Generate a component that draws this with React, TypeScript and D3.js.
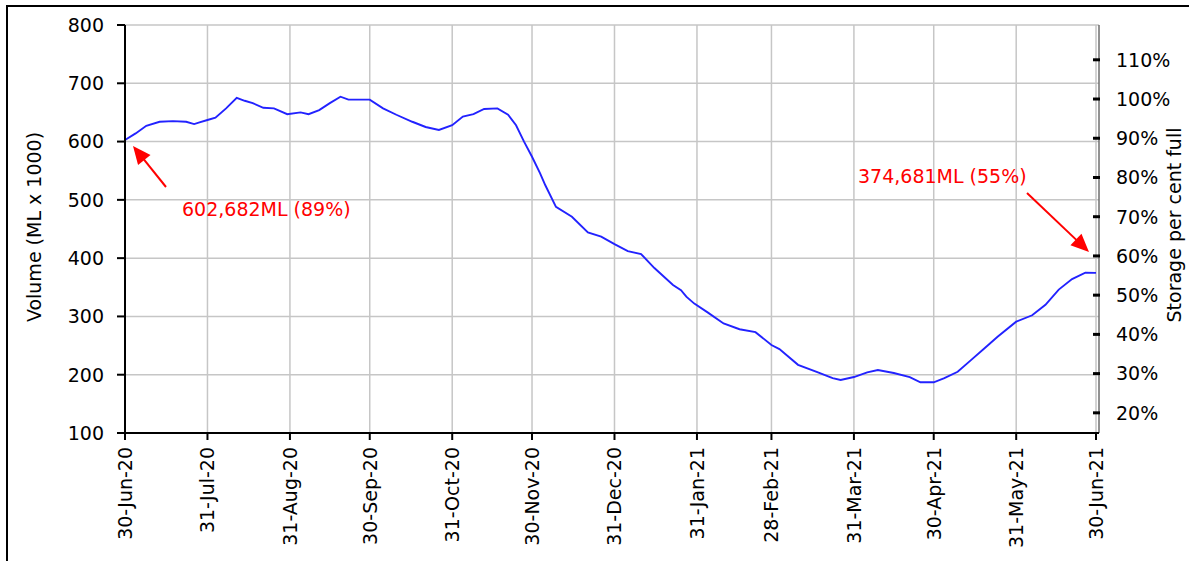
import React from "react";
import * as d3 from "d3";

// storage volume (ML x 1000)
const dates = [
  "2020-06-30", "2020-07-04", "2020-07-08", "2020-07-13", "2020-07-18", "2020-07-23",
  "2020-07-26", "2020-07-28", "2020-07-31", "2020-08-03", "2020-08-07", "2020-08-11",
  "2020-08-14", "2020-08-17", "2020-08-21", "2020-08-25", "2020-08-30", "2020-09-04",
  "2020-09-07", "2020-09-11", "2020-09-15", "2020-09-19", "2020-09-22", "2020-09-30",
  "2020-10-05", "2020-10-10", "2020-10-16", "2020-10-21", "2020-10-26", "2020-10-31",
  "2020-11-04", "2020-11-08", "2020-11-12", "2020-11-17", "2020-11-21", "2020-11-24",
  "2020-11-27", "2020-11-30", "2020-12-03", "2020-12-05", "2020-12-09", "2020-12-15",
  "2020-12-21", "2020-12-26", "2020-12-31", "2021-01-05", "2021-01-10", "2021-01-15",
  "2021-01-22", "2021-01-25", "2021-01-27", "2021-01-30", "2021-02-04", "2021-02-10",
  "2021-02-16", "2021-02-22", "2021-02-28", "2021-03-03", "2021-03-10", "2021-03-17",
  "2021-03-23", "2021-03-26", "2021-03-31", "2021-04-05", "2021-04-09", "2021-04-15",
  "2021-04-21", "2021-04-25", "2021-04-30", "2021-05-04", "2021-05-09", "2021-05-14",
  "2021-05-19", "2021-05-24", "2021-05-31", "2021-06-06", "2021-06-11", "2021-06-16",
  "2021-06-21", "2021-06-26", "2021-06-30",
];
const volumes = [
  602.7, 614, 627, 634, 635, 634,
  630, 633, 637, 641, 657, 675,
  670, 666, 658, 657, 647, 650,
  647, 654, 666, 677, 672, 672,
  657, 646, 634, 625, 620, 628,
  643, 647, 656, 657, 646, 628,
  600, 574, 546, 525, 488, 471,
  444, 437, 424, 412, 407, 383,
  354, 345, 334, 322, 307, 288,
  278, 273, 251, 244, 217, 205,
  194, 191, 196, 204, 208, 203,
  196, 187, 187, 194, 205, 225,
  245, 265, 291, 302, 320, 346,
  364, 375, 374.681,
];

const monthEnds = [
  "2020-06-30", "2020-07-31", "2020-08-31", "2020-09-30", "2020-10-31", "2020-11-30",
  "2020-12-31", "2021-01-31", "2021-02-28", "2021-03-31", "2021-04-30", "2021-05-31",
  "2021-06-30",
];
const volumeTicks = [100, 200, 300, 400, 500, 600, 700, 800];
const percentTicks = [20, 30, 40, 50, 60, 70, 80, 90, 100, 110];
const capacity = 673; // ML x 1000 at 100%

const annotations = [
  { text: "602,682ML (89%)", date: "2020-06-30", value: 602.682 },
  { text: "374,681ML (55%)", date: "2021-06-30", value: 374.681 },
];

const parse = (s: string) => {
  const [y, m, d] = s.split("-").map(Number);
  return new Date(Date.UTC(y, m - 1, d));
};

const W = 1189;
const H = 561;
const left = 125;
const top = 25;
const right = 1099;
const bottom = 433;
const font = "'DejaVu Sans', Verdana, sans-serif";

// red arrow with a filled head, tip at (x2, y2)
const Arrow = ({ x1, y1, x2, y2 }: { x1: number; y1: number; x2: number; y2: number }) => {
  const len = 18;
  const half = 8;
  const dx = x2 - x1;
  const dy = y2 - y1;
  const d = Math.hypot(dx, dy);
  const ux = dx / d;
  const uy = dy / d;
  const bx = x2 - ux * len;
  const by = y2 - uy * len;
  const pts = [
    [x2, y2],
    [bx - uy * half, by + ux * half],
    [bx + uy * half, by - ux * half],
  ];
  return (
    <g>
      <line x1={x1} y1={y1} x2={bx + ux * 2} y2={by + uy * 2} stroke="#ff0000" strokeWidth={2} />
      <polygon points={pts.map((p) => p.join(",")).join(" ")} fill="#ff0000" />
    </g>
  );
};

export default function App() {
  const x = d3
    .scaleUtc()
    .domain([parse("2020-06-30"), parse("2021-06-30")])
    .range([left, 1096]);
  const y = d3.scaleLinear().domain([100, 800]).range([bottom, top]);
  const yPct = d3
    .scaleLinear()
    .domain([(100 / capacity) * 100, (800 / capacity) * 100])
    .range([bottom, top]);
  const fmt = d3.utcFormat("%d-%b-%y");

  const points = dates.map((d, i) => ({ date: parse(d), v: volumes[i] }));
  const line = d3
    .line<{ date: Date; v: number }>()
    .x((d) => x(d.date))
    .y((d) => y(d.v));

  const a0 = annotations[0];
  const a1 = annotations[1];

  return (
    <svg
      width={W}
      height={H}
      style={{ position: "absolute", left: 0, top: 0, background: "#fff" }}
      fontFamily={font}
    >
      <rect x={7} y={6} width={1300} height={700} fill="#fff" stroke="#000" strokeWidth={2} />

      {/* grid */}
      {volumeTicks.map((t) => (
        <line key={"h" + t} x1={left} x2={right} y1={y(t)} y2={y(t)} stroke="#c6c6c6" strokeWidth={1.5} />
      ))}
      {monthEnds.map((d) => (
        <line key={"v" + d} x1={x(parse(d))} x2={x(parse(d))} y1={top} y2={bottom} stroke="#c6c6c6" strokeWidth={1.5} />
      ))}

      <path d={line(points) || ""} fill="none" stroke="#2222ff" strokeWidth={1.9} />

      {/* axes */}
      <line x1={right} x2={right} y1={top} y2={bottom} stroke="#6e6e6e" strokeWidth={1.5} />
      <line x1={left} x2={left} y1={top} y2={bottom + 1} stroke="#000" strokeWidth={2} />
      <line x1={left} x2={right} y1={bottom} y2={bottom} stroke="#000" strokeWidth={2} />

      {volumeTicks.map((t) => (
        <g key={"yl" + t}>
          <line x1={117} x2={left} y1={y(t)} y2={y(t)} stroke="#000" strokeWidth={2} />
          <text x={104} y={y(t)} dy="0.36em" textAnchor="end" fontSize={19} fill="#000">
            {t}
          </text>
        </g>
      ))}
      {percentTicks.map((t) => (
        <g key={"yr" + t}>
          <line x1={1093} x2={1100} y1={yPct(t)} y2={yPct(t)} stroke="#000" strokeWidth={3} />
          <text x={1116} y={yPct(t)} dy="0.36em" fontSize={19} fill="#000">
            {t}%
          </text>
        </g>
      ))}
      {monthEnds.map((d) => {
        const px = x(parse(d));
        return (
          <g key={"xl" + d}>
            <line x1={px} x2={px} y1={bottom} y2={440} stroke="#000" strokeWidth={2} />
            <text
              transform={`translate(${px},447) rotate(-90)`}
              dy="0.36em"
              textAnchor="end"
              fontSize={19}
              fill="#000"
            >
              {fmt(parse(d))}
            </text>
          </g>
        );
      })}

      <text transform="translate(41,227) rotate(-90)" textAnchor="middle" fontSize={19} fill="#000">
        Volume (ML x 1000)
      </text>
      <text transform="translate(1181,225) rotate(-90)" textAnchor="middle" fontSize={19} fill="#000">
        Storage per cent full
      </text>

      {/* annotations */}
      <Arrow x1={166} y1={187} x2={x(parse(a0.date)) + 8} y2={y(a0.value) + 6} />
      <text x={182} y={216} fontSize={19} fill="#ff0000">
        {a0.text}
      </text>
      <Arrow x1={1027} y1={193} x2={1089} y2={y(a1.value) - 21} />
      <text x={858} y={183} fontSize={19} fill="#ff0000">
        {a1.text}
      </text>
    </svg>
  );
}
